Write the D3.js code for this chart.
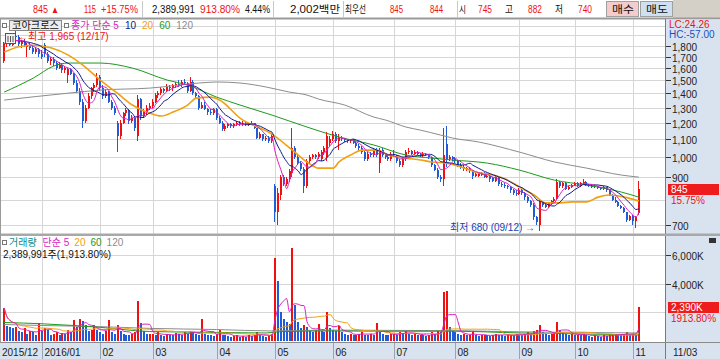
<!DOCTYPE html>
<html>
<head>
<meta charset="utf-8">
<script src="https://cdn.jsdelivr.net/npm/d3@7"></script>
<style>
body{margin:0;background:#fff;}
svg{display:block;font-family:"Liberation Sans","Noto Sans CJK KR",sans-serif;}
</style>
</head>
<body>
<svg id="chart" width="720" height="359"></svg>
<script>
// trading calendar (KRX closed days inside the window)
var holidays = ["2015-12-25","2015-12-31","2016-01-01","2016-02-08","2016-02-09","2016-02-10",
	"2016-03-01","2016-04-13","2016-05-05","2016-05-06","2016-06-06","2016-08-15",
	"2016-09-14","2016-09-15","2016-09-16","2016-10-03"];
var monthLabels = ["2015/12","2016/01","02","03","04","05","06","07","08","09","10","11"];

// daily candles [open, high, low, close]
var dec15 = [[1660,1840,1640,1820],[1820,1870,1790,1850],[1850,1880,1800,1810],[1810,1900,1800,1890],[1890,1965,1860,1880],
	[1880,1900,1800,1820],[1820,1850,1780,1840],[1840,1860,1790,1800],[1790,1830,1700,1810],[1810,1830,1760,1780],
	[1780,1800,1720,1740],[1740,1790,1720,1770],[1770,1780,1700,1720]];
var jan16 = [[1720,1760,1680,1700],[1810,1830,1700,1720],[1720,1740,1640,1660],[1660,1700,1630,1680],[1680,1700,1620,1640],
	[1640,1660,1580,1600],[1600,1650,1590,1630],[1630,1640,1560,1580],[1580,1620,1560,1600],[1540,1600,1480,1590],
	[1590,1600,1540,1550],[1550,1560,1460,1480],[1480,1500,1400,1420],[1420,1440,1320,1340],[1340,1360,1170,1210],
	[1210,1320,1200,1300],[1300,1400,1290,1380],[1380,1450,1360,1440],[1440,1480,1410,1460],[1460,1560,1450,1530]];
var feb16 = [[1530,1540,1420,1440],[1440,1460,1360,1380],[1380,1430,1370,1410],[1410,1420,1330,1340],[1340,1350,1280,1300],
	[1300,1310,1250,1260],[1200,1210,1030,1120],[1120,1220,1100,1200],[1200,1270,1190,1260],[1260,1300,1240,1280],
	[1280,1290,1190,1210],[1210,1250,1200,1230],[1230,1240,1150,1170],[1120,1390,1090,1360],[1360,1370,1220,1240],
	[1240,1290,1230,1270],[1270,1320,1250,1300],[1300,1330,1280,1310]];
var mar16 = [[1310,1360,1300,1340],[1340,1400,1330,1390],[1390,1420,1370,1400],[1400,1450,1390,1430],[1430,1440,1400,1420],
	[1420,1470,1410,1450],[1450,1460,1420,1440],[1440,1470,1420,1460],[1460,1490,1440,1470],[1470,1500,1450,1460],
	[1460,1500,1450,1490],[1490,1510,1470,1480],[1480,1490,1400,1420],[1420,1530,1410,1490],[1490,1500,1390,1400],
	[1400,1410,1360,1380],[1380,1390,1280,1300],[1300,1340,1290,1320],[1320,1340,1280,1290],[1290,1300,1250,1270],
	[1270,1290,1250,1260],[1260,1300,1250,1290]];
var apr16 = [[1290,1300,1220,1230],[1230,1240,1190,1200],[1200,1210,1150,1160],[1160,1190,1150,1180],[1180,1200,1170,1190],
	[1190,1200,1170,1180],[1180,1200,1170,1190],[1190,1210,1180,1200],[1200,1210,1180,1190],[1190,1210,1180,1200],
	[1200,1210,1180,1190],[1190,1200,1180,1195],[1195,1210,1185,1200],[1200,1200,1160,1170],[1170,1170,1100,1110],
	[1110,1140,1100,1130],[1130,1130,1090,1100],[1100,1120,1090,1110],[1110,1120,1080,1090],[1090,1130,1080,1120]];
var may16 = [[860,870,710,750],[750,850,700,830],[820,910,800,900],[900,910,860,870],[870,900,860,890],
	[890,940,880,930],[920,1170,900,1050],[1050,1060,990,1000],[1000,1010,960,970],[970,980,930,940],
	[940,950,830,860],[860,990,850,980],[980,1010,970,1000],[1000,1020,990,1010],[1010,1020,990,1000],
	[1000,1030,990,1020],[990,1040,980,1030],[1030,1060,1010,1050],[1000,1140,980,1120],[1080,1120,1060,1100]];
var jun16 = [[1100,1150,1090,1130],[1130,1140,1080,1090],[1090,1130,1040,1110],[1110,1120,1090,1100],[1100,1110,1085,1095],
	[1095,1100,1080,1090],[1090,1100,1080,1095],[1095,1100,1070,1080],[1080,1090,1050,1060],[1060,1070,1040,1050],
	[1050,1060,1020,1030],[1030,1040,980,990],[990,1030,980,1020],[1020,1030,1000,1010],[1010,1050,1000,1040],
	[1040,1050,1000,1010],[970,1050,920,1040],[1040,1050,1000,1010],[1010,1020,990,1000],[1000,1010,980,990],
	[990,1030,980,1020]];
var jul16 = [[1020,1040,1000,1010],[1010,1010,970,980],[980,990,950,960],[960,1000,950,990],[990,1040,980,1030],
	[1030,1050,1020,1035],[1035,1040,1010,1020],[1020,1040,1015,1030],[1030,1035,1010,1020],[1020,1025,1000,1010],
	[1010,1030,1000,1020],[1020,1025,1005,1010],[1010,1015,990,1000],[1000,1000,950,960],[960,965,930,935],
	[935,945,890,900],[900,910,880,890],[890,1170,860,1010],[1070,1180,950,990],[990,1010,980,1000],
	[1000,1005,980,990]];
var aug16 = [[990,1000,970,980],[980,985,950,960],[960,970,940,950],[950,960,930,940],[940,950,930,945],
	[945,950,920,930],[930,935,890,905],[905,920,900,915],[905,925,900,920],[910,925,905,920],
	[920,925,895,900],[900,915,895,905],[905,910,880,890],[895,900,880,885],[885,905,880,900],
	[900,900,860,870],[870,880,855,865],[865,875,850,860],[860,865,845,855],[855,860,830,840],
	[840,845,820,830],[830,840,815,825]];
var sep16 = [[825,850,820,840],[840,845,820,830],[830,835,800,810],[810,815,785,795],[795,800,770,780],
	[780,785,720,730],[730,735,700,710],[700,800,680,790],[790,795,770,780],[780,790,765,770],
	[770,790,765,785],[785,800,780,795],[795,810,790,805],[805,890,800,880],[880,885,850,860],
	[860,880,850,875],[875,880,840,845],[845,860,840,855],[855,870,850,865]];
var oct16 = [[865,880,860,875],[875,880,855,860],[860,880,855,875],[875,890,870,880],[880,885,860,865],
	[865,870,855,860],[860,870,850,855],[855,865,850,860],[860,862,845,850],[850,855,840,845],
	[845,860,840,855],[855,855,835,840],[840,840,815,820],[820,825,795,800],[800,810,785,790],
	[790,795,770,775],[775,780,760,765],[765,770,745,750],[750,750,710,720],[720,740,715,735]];
var nov16 = [[735,740,700,715],[715,735,690,730],[745,882,740,845]];

// daily volume, thousand shares
var volDec15 = [2300,1050,950,900,1000,700,600,900,500,700,600,450,1280];
var volJan16 = [700,900,750,450,500,600,400,550,500,800,600,1450,1000,1500,1400,1100,700,800,1100,800];
var volFeb16 = [600,500,700,1450,600,500,1100,700,500,450,400,500,600,2800,1280,700,500,500];
var volMar16 = [500,450,600,400,350,500,450,400,550,500,450,600,500,700,650,500,400,1550,500,450,400,350];
var volApr16 = [500,800,450,400,350,300,350,400,300,350,300,400,350,450,600,400,350,300,350,500];
var volMay16 = [5800,4200,2000,1500,1300,1200,6500,2500,1300,900,1100,1000,700,600,800,1200,700,600,2000,900];
var volJun16 = [800,700,1050,600,500,450,500,400,450,500,600,450,400,500,450,1280,600,500,450,400,500];
var volJul16 = [500,450,600,550,700,500,450,500,400,450,400,350,400,600,500,700,600,3400,3500,1000,700];
var volAug16 = [600,500,450,500,400,450,600,400,350,400,450,400,350,400,500,450,400,350,400,450,400,500];
var volSep16 = [450,400,500,600,500,700,800,1100,600,500,450,500,600,1350,800,600,500,450,500];
var volOct16 = [400,450,400,500,400,350,300,400,350,300,400,350,400,450,500,450,400,500,600,450];
var volNov16 = [500,450,2390];

// long moving averages: [candle index, value]
var ma20 = [[0,1740],[5,1790],[10,1805],[16,1780],[22,1713],[27,1625],[33,1502],[39,1400],[44,1317],[50,1262],
	[54,1243],[58,1269],[63,1317],[66,1366],[71,1373],[74,1352],[81,1230],[92,1130],[99,1039],[104,976],
	[108,945],[113,945],[115,976],[119,1012],[123,1039],[128,1039],[132,1012],[138,996],[143,986],[147,976],
	[152,970],[157,950],[162,925],[168,911],[173,887],[177,855],[182,820],[186,787],[191,787],[195,791],
	[200,791],[204,811],[208,820],[213,811],[218,795]];
var ma60 = [[0,1410],[10,1518],[17,1617],[22,1643],[33,1643],[44,1600],[56,1502],[63,1463],[73,1373],[81,1317],
	[92,1249],[104,1173],[115,1113],[127,1067],[138,1012],[147,996],[154,986],[166,970],[177,935],[189,887],
	[200,864],[212,833],[218,811]];
var ma120 = [[0,1352],[22,1402],[33,1425],[50,1440],[67,1479],[73,1487],[81,1479],[90,1448],[98,1410],[104,1388],
	[108,1359],[117,1317],[127,1236],[131,1217],[138,1173],[143,1154],[150,1124],[154,1107],[163,1084],[177,1028],
	[189,976],[200,945],[212,911],[218,901]];
var volMa60 = [[0,1290],[13,1200],[33,950],[50,660],[73,600],[90,560],[95,650],[112,700],[134,680],[155,680],
	[177,560],[196,500],[218,420]];
var volMa120 = [[0,1150],[13,1080],[33,1000],[50,880],[73,800],[92,700],[112,760],[134,740],[155,720],[177,640],
	[196,600],[218,560]];

var priceTicks = [700,900,1000,1100,1200,1300,1400,1500,1600,1700,1800];
var priceGrid = [700,800,900,1000,1100,1200,1300,1400,1500,1600,1700,1800,1900,2000];
var volTicks = [4000,6000];
var volGrid = [2000,4000,6000];

var RED = "#f01010", BLUE = "#1f5cd6", C5 = "#d81fc0", C10 = "#0a1a8c", C20 = "#f0a010", C60 = "#1c9a1c", C120 = "#8c8c8c";
var PANEL = "#d9e3ef", GRID = "#d6d6d6";

var parse = d3.timeParse("%Y-%m-%d"), fmt = d3.timeFormat("%Y-%m-%d");
var days = d3.timeDay.range(parse("2015-12-11"), parse("2016-11-04")).filter(function(d){
	return d.getDay() % 6 !== 0 && holidays.indexOf(fmt(d)) < 0;
});
var candles = [].concat(dec15,jan16,feb16,mar16,apr16,may16,jun16,jul16,aug16,sep16,oct16,nov16).map(function(d,i){
	return {date:days[i], o:d[0], h:d[1], l:d[2], c:d[3]};
});
var vols = [].concat(volDec15,volJan16,volFeb16,volMar16,volApr16,volMay16,volJun16,volJul16,volAug16,volSep16,volOct16,volNov16);
candles.forEach(function(d,i){ d.v = vols[i]; d.vUp = i === 0 || vols[i] >= vols[i-1]; });

function sma(arr, n){
	return arr.map(function(v,i){ return d3.mean(arr.slice(Math.max(0,i-n+1), i+1)); });
}
var closes = candles.map(function(d){return d.c;});
var ma5 = sma(closes,5), ma10 = sma(closes,10), vma5 = sma(vols,5), vma20 = sma(vols,20);

var svg = d3.select("#chart");
var x = d3.scaleBand().domain(d3.range(candles.length)).range([2.75,640.3]).paddingInner(0.3).paddingOuter(0.15);
function xc(i){ return x(i) + x.bandwidth()/2; }
var y = d3.scaleLog().domain([675,2050]).range([232,21]);
var yv = d3.scaleLinear().domain([0,7000]).range([341,240.6]);

var defs = svg.append("defs");
defs.append("clipPath").attr("id","clipP").append("rect").attr("x",0).attr("y",20).attr("width",665).attr("height",213);
defs.append("clipPath").attr("id","clipV").append("rect").attr("x",0).attr("y",237).attr("width",665).attr("height",105);

// ---- backgrounds
svg.append("rect").attr("x",673).attr("y",0).attr("width",47).attr("height",18).attr("fill","#d4d0c8");
svg.append("rect").attr("x",606.5).attr("y",1.5).attr("width",32).attr("height",15).attr("fill","#f4cccc").attr("stroke","#a0a0a0");
svg.append("rect").attr("x",640.5).attr("y",1.5).attr("width",32).attr("height",15).attr("fill","#cfe0f2").attr("stroke","#a0a0a0");
[142,273,343,457].forEach(function(sx){
	svg.append("line").attr("x1",sx+0.5).attr("x2",sx+0.5).attr("y1",1).attr("y2",17).attr("stroke","#c8c8c8");
});
svg.append("rect").attr("x",0).attr("y",17.5).attr("width",720).attr("height",2).attr("fill","#9a9a9a");
svg.append("rect").attr("x",665).attr("y",19.5).attr("width",55).attr("height",340).attr("fill",PANEL);
svg.append("rect").attr("x",0).attr("y",343).attr("width",720).attr("height",16).attr("fill",PANEL);
svg.append("line").attr("x1",665.5).attr("x2",665.5).attr("y1",19).attr("y2",359).attr("stroke","#7a7a7a");

// ---- top info bar text (widths follow the terminal's narrow font)
var headItems = [
	["845",33,15,RED],["▲",51,8,RED],["115",84,12,RED],["+15.75%",101,37,RED],
	["2,389,991",152,43,"#111"],["913.80%",200,40,RED],["4.44%",245,25,"#111"],
	["2,002백만",290,50,"#111"],["최우선",345,21,"#111"],["845",390,13,RED],["844",430,13,RED],
	["시",459,7,"#111"],["745",478,14,RED],["고",505,8,"#111"],["882",528,14,RED],
	["저",555,8,"#111"],["740",578,14,RED],["매수",612,22,"#111"],["매도",646,22,"#111"]];
var head = svg.append("g").attr("font-size","10px");
headItems.forEach(function(t){
	head.append("text").attr("x",t[1]).attr("y",13).attr("fill",t[3])
		.attr("textLength",t[2]).attr("lengthAdjust","spacingAndGlyphs").text(t[0]);
});

// ---- grid
var gridG = svg.append("g").attr("stroke",GRID).attr("shape-rendering","crispEdges");
priceGrid.forEach(function(p){
	var yy = Math.round(y(p)) + 0.5;
	gridG.append("line").attr("x1",0).attr("x2",665).attr("y1",yy).attr("y2",yy);
});
volGrid.forEach(function(v){
	var yy = Math.round(yv(v)) + 0.5;
	gridG.append("line").attr("x1",0).attr("x2",665).attr("y1",yy).attr("y2",yy);
});
var monthStarts = [];
candles.forEach(function(d,i){
	if(i === 0 || d.date.getMonth() !== candles[i-1].date.getMonth()) monthStarts.push(i);
});
monthStarts.forEach(function(i,k){
	var gx = Math.round(xc(i)) + 0.5;
	if(k > 0){
		gridG.append("line").attr("x1",gx).attr("x2",gx).attr("y1",20).attr("y2",343);
		svg.append("line").attr("x1",gx).attr("x2",gx).attr("y1",343).attr("y2",359).attr("stroke","#9aa4b0");
	}
	svg.append("text").attr("x",k === 0 ? 2 : gx + 2).attr("y",356).attr("font-size","10px")
		.attr("fill","#222").text(monthLabels[k]);
});
svg.append("text").attr("x",673).attr("y",356).attr("font-size","10px").attr("fill","#222").text("11/03");

// panel separators
svg.append("rect").attr("x",0).attr("y",233.5).attr("width",720).attr("height",2.5).attr("fill","#a8a8a8");
svg.append("line").attr("x1",0).attr("x2",720).attr("y1",342.5).attr("y2",342.5).attr("stroke","#8a8a8a");
svg.append("line").attr("x1",0.5).attr("x2",0.5).attr("y1",19).attr("y2",343).attr("stroke","#9a9a9a");

// ---- candles
var pg = svg.append("g").attr("clip-path","url(#clipP)");
var cg = pg.selectAll("g.candle").data(candles).enter().append("g").attr("class","candle")
	.attr("shape-rendering","crispEdges");
cg.append("line")
	.attr("x1",function(d,i){return Math.round(xc(i)) - 0.5;})
	.attr("x2",function(d,i){return Math.round(xc(i)) - 0.5;})
	.attr("y1",function(d){return y(d.h);})
	.attr("y2",function(d){return y(d.l);})
	.attr("stroke",function(d){return d.c >= d.o ? RED : BLUE;});
cg.append("rect")
	.attr("x",function(d,i){return Math.round(xc(i)) - 1;})
	.attr("width",2)
	.attr("y",function(d){return y(Math.max(d.o,d.c));})
	.attr("height",function(d){return Math.max(1, y(Math.min(d.o,d.c)) - y(Math.max(d.o,d.c)));})
	.attr("fill",function(d){return d.c >= d.o ? RED : BLUE;});

function drawLine(g, pts, yScale, color, w){
	g.append("path").datum(pts)
		.attr("fill","none").attr("stroke",color).attr("stroke-width",w)
		.attr("d",d3.line().curve(d3.curveMonotoneX).x(function(p){return xc(p[0]);}).y(function(p){return yScale(p[1]);}));
}
function series(arr){ return arr.map(function(v,i){return [i,v];}); }
drawLine(pg, ma120, y, C120, 1);
drawLine(pg, ma60, y, C60, 1);
drawLine(pg, ma20, y, C20, 1.6);
drawLine(pg, series(ma10), y, C10, 1);
drawLine(pg, series(ma5), y, C5, 1);

// ---- volume (red when volume rose from the day before)
var vg = svg.append("g").attr("clip-path","url(#clipV)");
vg.selectAll("rect").data(candles).enter().append("rect")
	.attr("shape-rendering","crispEdges")
	.attr("x",function(d,i){return Math.round(xc(i)) - 1;})
	.attr("width",2)
	.attr("y",function(d){return yv(d.v);})
	.attr("height",function(d){return yv(0) - yv(d.v);})
	.attr("fill",function(d){return d.vUp ? RED : BLUE;});
drawLine(vg, volMa120, yv, C120, 1);
drawLine(vg, volMa60, yv, C60, 1);
drawLine(vg, series(vma20), yv, C20, 1);
drawLine(vg, series(vma5), yv, C5, 1);

// ---- axis labels
var last = candles[candles.length-1];
svg.append("rect").attr("x",668).attr("y",Math.round(y(last.c)) - 5).attr("width",51).attr("height",11).attr("fill","#ee1c1c");
svg.append("rect").attr("x",668).attr("y",Math.round(yv(last.v)) - 5).attr("width",51).attr("height",11).attr("fill","#ee1c1c");
svg.append("rect").attr("x",709).attr("y",238).attr("width",7).attr("height",5).attr("fill","#333");
var ax = svg.append("g").attr("font-size","10px").attr("fill","#222");
priceTicks.forEach(function(p){
	var yy = Math.round(y(p)) + 0.5;
	svg.append("line").attr("x1",666).attr("x2",671).attr("y1",yy).attr("y2",yy).attr("stroke","#333");
	ax.append("text").attr("x",672).attr("y",yy + 4).text(d3.format(",")(p));
});
volTicks.forEach(function(v){
	var yy = Math.round(yv(v)) + 0.5;
	svg.append("line").attr("x1",666).attr("x2",671).attr("y1",yy).attr("y2",yy).attr("stroke","#333");
	ax.append("text").attr("x",672).attr("y",yy + 4).text(d3.format(",")(v) + "K");
});
ax.append("text").attr("x",671).attr("y",Math.round(y(last.c)) + 4).attr("fill","#fff").text(d3.format(",")(last.c));
ax.append("text").attr("x",671).attr("y",Math.round(y(last.c)) + 15).attr("fill",RED).text("15.75%");
ax.append("text").attr("x",671).attr("y",Math.round(yv(last.v)) + 4).attr("fill","#fff").text("2,390K");
ax.append("text").attr("x",671).attr("y",Math.round(yv(last.v)) + 15).attr("fill",RED).text("1913.80%");
ax.append("text").attr("x",669).attr("y",28).attr("fill",RED).text("LC:24.26");
ax.append("text").attr("x",669).attr("y",38).attr("fill","#1a4fc0").text("HC:-57.00");

// ---- legends and annotations
function box(bx,by){
	svg.append("rect").attr("x",bx+0.5).attr("y",by+0.5).attr("width",4).attr("height",4).attr("fill","#fff").attr("stroke","#777");
}
box(2,23); box(64,23); box(2,240);
svg.append("rect").attr("x",9.5).attr("y",20.5).attr("width",52).attr("height",10).attr("fill","#ececec").attr("stroke","#888");
svg.append("rect").attr("x",5.5).attr("y",33.5).attr("width",10).attr("height",10).attr("fill","#f0f0f0").attr("stroke","#555");
[8,10.5,13].forEach(function(lx){
	svg.append("line").attr("x1",lx).attr("x2",lx).attr("y1",36).attr("y2",42).attr("stroke","#555");
});

var lg = svg.append("g").attr("font-size","10px");
lg.append("text").attr("x",12).attr("y",29).attr("fill","#111").attr("textLength",47).attr("lengthAdjust","spacingAndGlyphs").text("코아크로스");
var leg1 = lg.append("text").attr("x",71).attr("y",29);
leg1.append("tspan").attr("fill",C5).text("종가 단순 5");
leg1.append("tspan").attr("fill",C10).attr("dx",6).text("10");
leg1.append("tspan").attr("fill",C20).attr("dx",6).text("20");
leg1.append("tspan").attr("fill",C60).attr("dx",6).text("60");
leg1.append("tspan").attr("fill",C120).attr("dx",6).text("120");

var hi = d3.max(candles,function(d){return d.h;});
lg.append("text").attr("x",18).attr("y",40).attr("fill",RED).text("←최고 " + d3.format(",")(hi) + " (12/17)");
var lo = d3.min(candles,function(d){return d.l;});
lg.append("text").attr("x",450).attr("y",231).attr("fill","#1a3fb0").text("최저 " + lo + " (09/12) →");

var leg2 = lg.append("text").attr("x",9).attr("y",246);
leg2.append("tspan").attr("fill","#0a8a8a").text("거래량");
leg2.append("tspan").attr("fill",C5).attr("dx",6).text("단순 5");
leg2.append("tspan").attr("fill",C20).attr("dx",5).text("20");
leg2.append("tspan").attr("fill",C60).attr("dx",5).text("60");
leg2.append("tspan").attr("fill",C120).attr("dx",5).text("120");
lg.append("text").attr("x",3).attr("y",258).attr("fill","#111").text("2,389,991주(1,913.80%)");
</script>
</body>
</html>
